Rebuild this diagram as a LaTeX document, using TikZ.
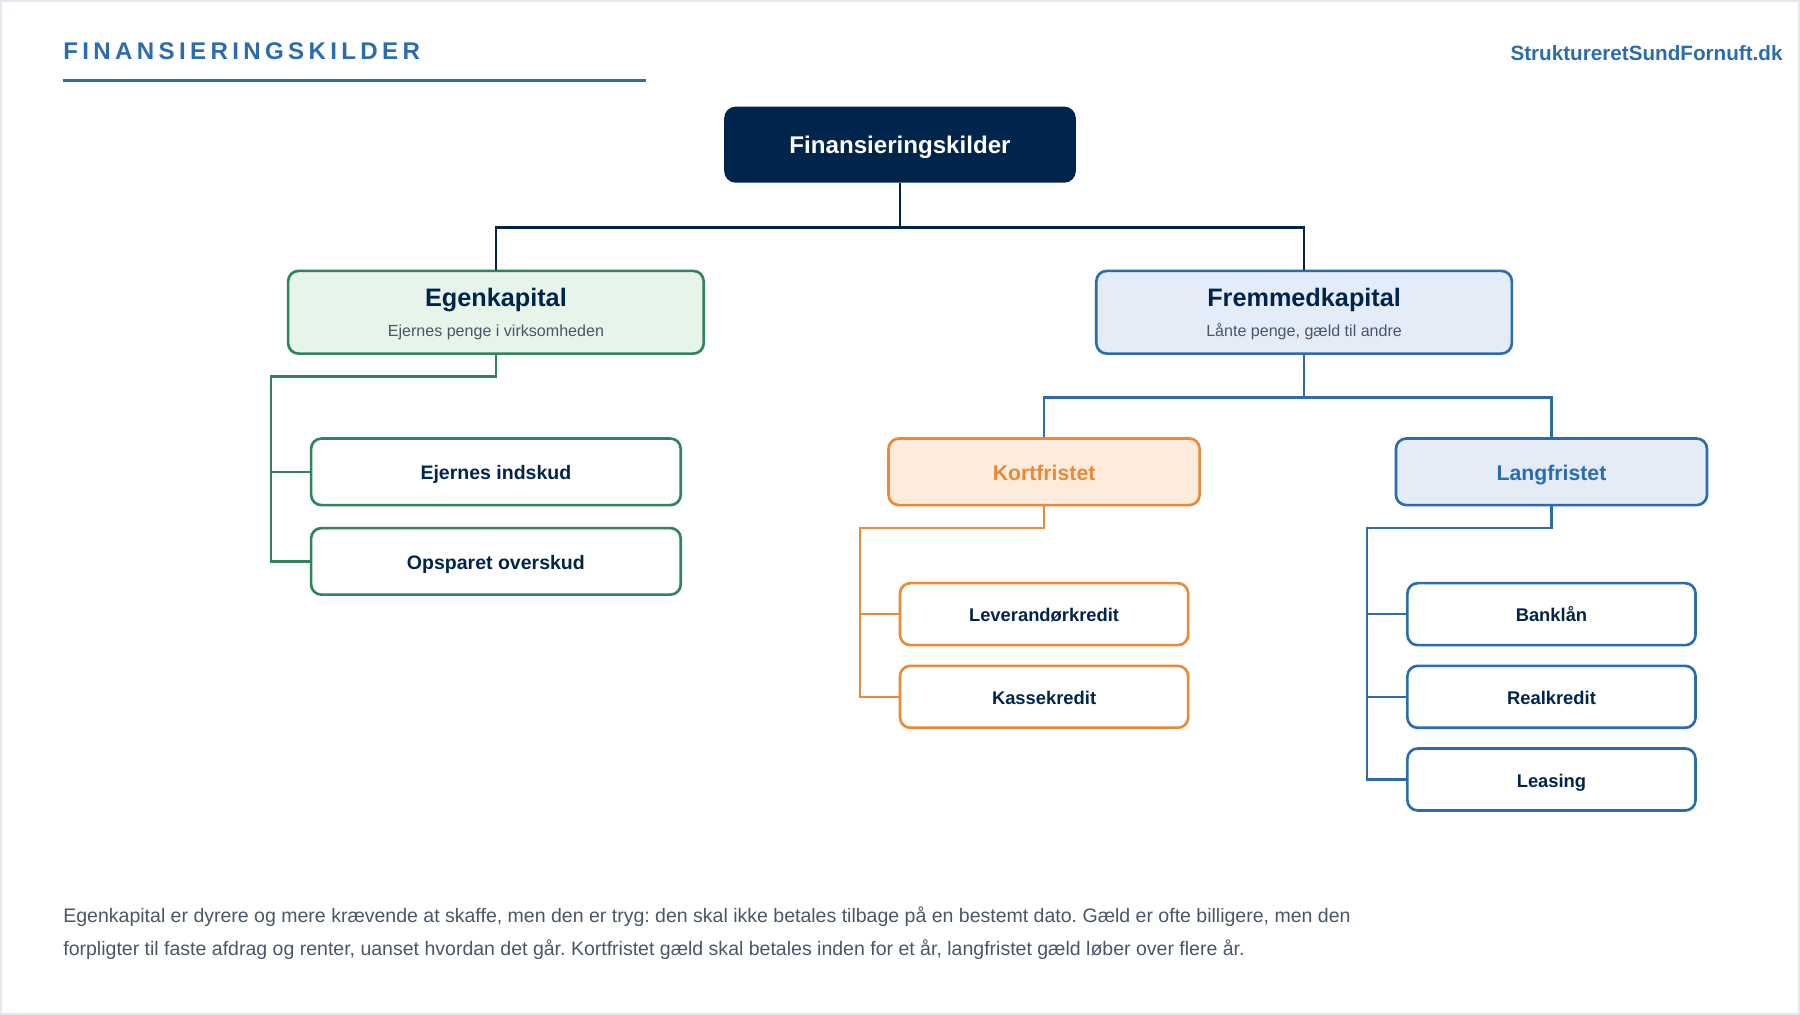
\documentclass[tikz,border=0pt]{standalone}
\usepackage{fontspec}
\setmainfont{Liberation Sans}
\newfontfamily\spacedfont[LetterSpace=18]{Liberation Sans}
\definecolor{navy}{HTML}{00254D}
\definecolor{blueC}{HTML}{2B6CB0}
\definecolor{greenC}{HTML}{2F855A}
\definecolor{greenF}{HTML}{E6F4EA}
\definecolor{blueF}{HTML}{E3ECF7}
\definecolor{orangeC}{HTML}{ED8936}
\definecolor{orangeF}{HTML}{FDEBDC}
\definecolor{grayT}{HTML}{4A5568}
\definecolor{frameC}{HTML}{E2E8F0}
\frenchspacing
\begin{document}
\begin{tikzpicture}[x=1pt,y=-1pt,
  box/.style={rectangle, rounded corners=9pt, line width=2.3pt, inner sep=0pt, align=center},
  mainbox/.style={box, minimum width=362pt, minimum height=72pt},
  subbox/.style={box, minimum width=271pt, minimum height=58pt, text height=15pt, text depth=0pt, font=\fontsize{18.5}{20}\selectfont\bfseries},
  leafA/.style={box, draw=greenC, fill=white, minimum width=322pt, minimum height=58pt, text=navy, text height=14pt, text depth=0pt, font=\fontsize{17}{20}\selectfont\bfseries},
  leafB/.style={box, fill=white, minimum width=251pt, minimum height=54pt, text=navy, text height=13.3pt, text depth=0pt, font=\fontsize{16}{19}\selectfont\bfseries},
  conn/.style={line width=2pt},
  headT/.style={anchor=base, text=navy, font=\fontsize{22}{26}\selectfont\bfseries, inner sep=0pt},
  subT/.style={anchor=base, text=grayT, font=\fontsize{14}{17}\selectfont, inner sep=0pt},
  footT/.style={anchor=base west, inner sep=0pt, text=grayT, font=\fontsize{17}{20}\selectfont}
]
\useasboundingbox (0,0) rectangle (1568,884);
\draw[frameC, line width=1.5pt] (0.75,0.75) rectangle (1567.25,883.25);

% header
\node[anchor=base west, inner sep=0pt, text=blueC, font=\fontsize{21}{24}\selectfont\bfseries\spacedfont] (title) at (55,51.5) {FINANSIERINGSKILDER};
\draw[blueC, line width=3pt] (55,70) -- (563,70);
\node[anchor=base east, inner sep=0pt, text=blueC, font=\fontsize{18}{21}\selectfont\bfseries] (web) at (1553,52.3) {StruktureretSundFornuft.dk};

% root
\node[box, fill=navy, draw=navy, minimum width=304pt, minimum height=64pt, text=white, text height=15.5pt, text depth=0pt, font=\fontsize{21}{24}\selectfont\bfseries] (root) at (784,126) {Finansieringskilder};

% level 1
\node[mainbox, draw=greenC, fill=greenF] (ek) at (432,272) {};
\node[headT] (ekh) at (432,267) {Egenkapital};
\node[subT] (eks) at (432,293) {Ejernes penge i virksomheden};
\node[mainbox, draw=blueC, fill=blueF] (fk) at (1136,272) {};
\node[headT] (fkh) at (1136,267) {Fremmedkapital};
\node[subT] (fks) at (1136,293) {Lånte penge, gæld til andre};

\draw[conn, navy] (root.south) -- ++(0,39) -| (ek.north);
\draw[conn, navy] (root.south) -- ++(0,39) -| (fk.north);

% egenkapital children
\node[leafA] (ei) at (432,411) {Ejernes indskud};
\node[leafA] (oo) at (432,489) {Opsparet overskud};
\coordinate (ekt) at (236,328);
\draw[conn, greenC] (ek.south) |- (ekt) |- (ei.west);
\draw[conn, greenC] (ekt) |- (oo.west);

% fremmedkapital children
\node[subbox, draw=orangeC, fill=orangeF, text=orangeC] (kf) at (909.5,411) {Kortfristet};
\node[subbox, draw=blueC, fill=blueF, text=blueC] (lf) at (1351.5,411) {Langfristet};
\draw[conn, blueC] (fk.south) -- ++(0,37) -| (kf.north);
\draw[conn, blueC] (fk.south) -- ++(0,37) -| (lf.north);

% kortfristet children
\node[leafB, draw=orangeC] (lk) at (909.5,535) {Leverandørkredit};
\node[leafB, draw=orangeC] (kk) at (909.5,607) {Kassekredit};
\coordinate (kft) at (749,460);
\draw[conn, orangeC] (kf.south) |- (kft) |- (lk.west);
\draw[conn, orangeC] (kft) |- (kk.west);

% langfristet children
\node[leafB, draw=blueC] (bl) at (1351.5,535) {Banklån};
\node[leafB, draw=blueC] (rk) at (1351.5,607) {Realkredit};
\node[leafB, draw=blueC] (le) at (1351.5,679) {Leasing};
\coordinate (lft) at (1191,460);
\draw[conn, blueC] (lf.south) |- (lft) |- (bl.west);
\draw[conn, blueC] (lft) |- (rk.west);
\draw[conn, blueC] (lft) |- (le.west);

% footer text
\node[footT] (foot1) at (55,804) {Egenkapital er dyrere og mere krævende at skaffe, men den er tryg: den skal ikke betales tilbage på en bestemt dato. Gæld er ofte billigere, men den};
\node[footT] (foot2) at (55,832) {forpligter til faste afdrag og renter, uanset hvordan det går. Kortfristet gæld skal betales inden for et år, langfristet gæld løber over flere år.};
\end{tikzpicture}
\end{document}
